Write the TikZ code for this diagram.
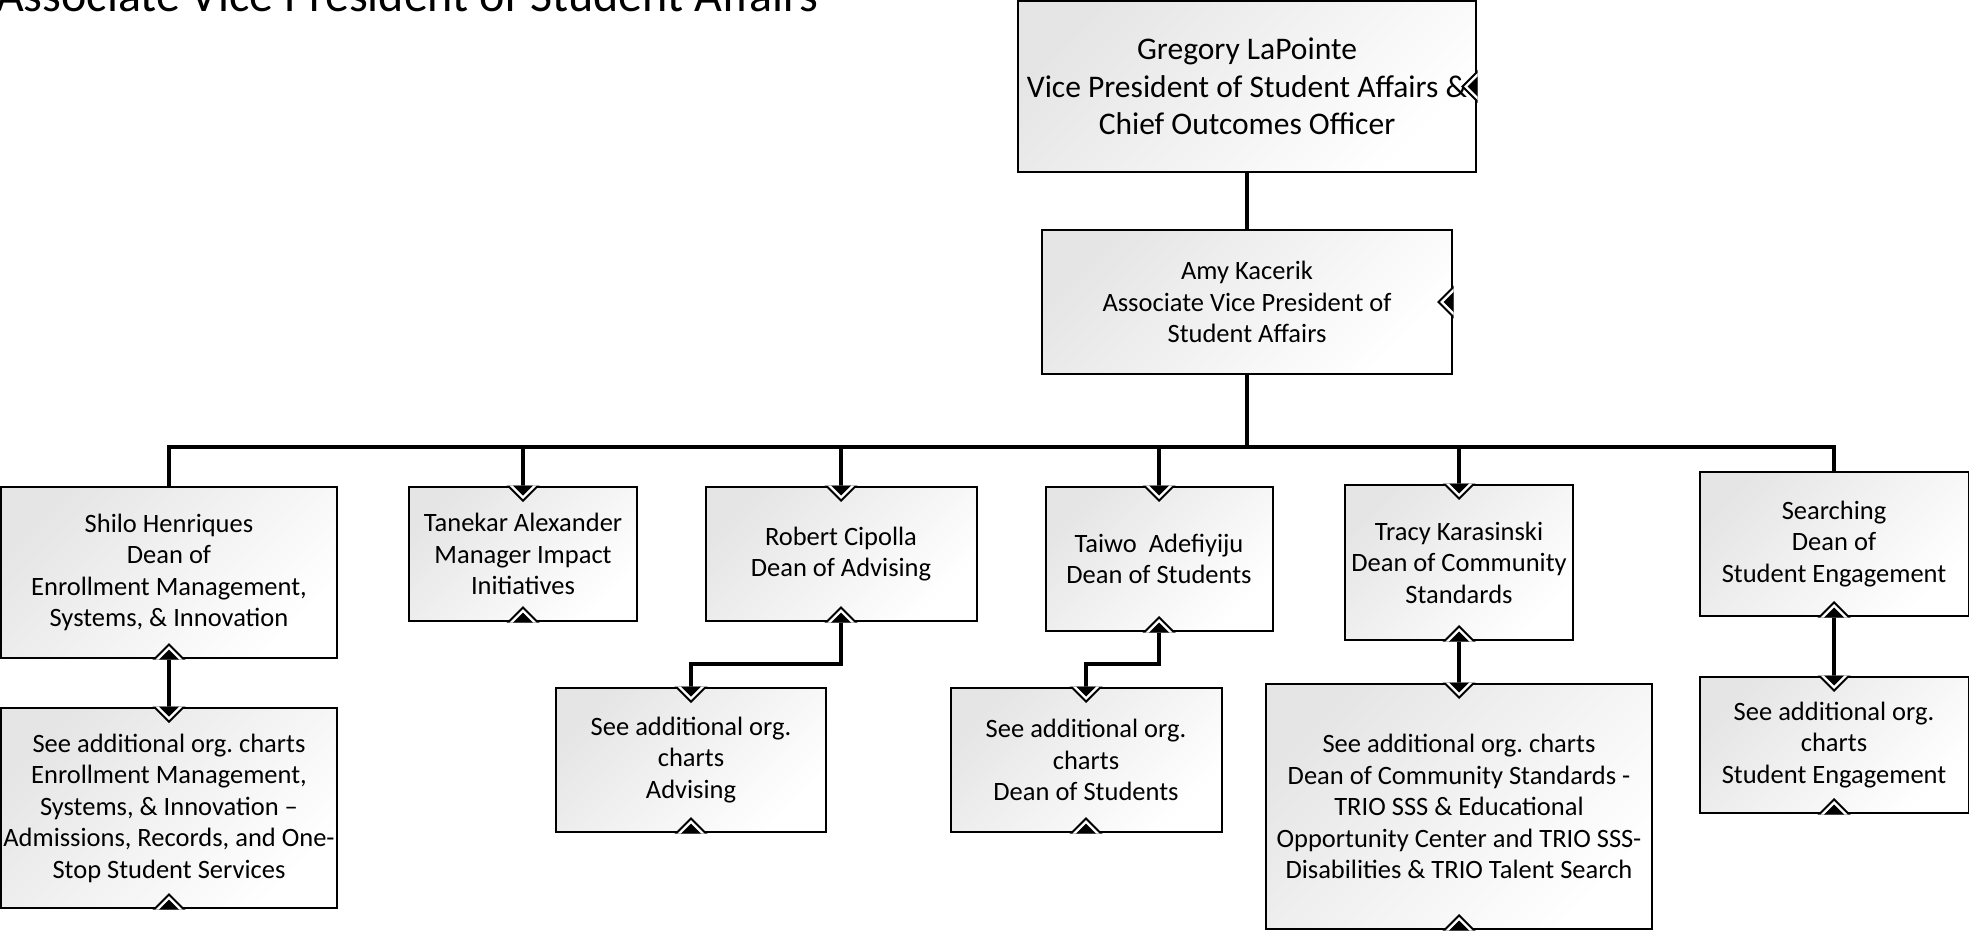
\documentclass[tikz,border=0pt]{standalone}
\usepackage{fontspec}
\setmainfont{Carlito}
\frenchspacing
\begin{document}
\tikzset{
  unitbox/.style={draw=black, line width=2pt, inner sep=0pt, outer sep=0pt,
    top color=black!10, bottom color=white, shading angle=45},
  unittext/.style={align=center, inner sep=0pt, font=\fontsize{26.5}{31.5}\selectfont},
  link/.style={draw=black, line width=4pt, line join=miter},
  % connection marker: base on the box edge, pointing into the box
  inmark/.pic={
    \fill[black] (-16.5,-1.5) -- (0,15) -- (16.5,-1.5) -- cycle;
    \fill[white] (-13.5,-1.5) -- (0,12) -- (13.5,-1.5) -- cycle;
    \fill[black] (-10,-1.5) -- (0,8.5) -- (10,-1.5) -- cycle;
  }
}
% name, centre x, centre y, width, height, text
\newcommand\orgunit[6]{%
  \node[unitbox, minimum width=#4pt, minimum height=#5pt] (#1) at (#2,#3) {};
  \node[unittext] (#1-t) at (#1) {#6};}
\begin{tikzpicture}[x=1pt, y=-1pt]
\useasboundingbox (0,0) rectangle (1969,930);

\node[font=\fontsize{48}{57}\selectfont, anchor=base west, inner sep=0pt] (title)
  at (-4,11) {Associate Vice President of Student Affairs};

% top of the chart
\node[unitbox, minimum width=458pt, minimum height=171pt] (greg) at (1247,86.5) {};
\node[align=center, inner sep=0pt, font=\fontsize{31.5}{37.5}\selectfont] (greg-t) at (greg)
  {Gregory LaPointe\\Vice President of Student Affairs \&\\Chief Outcomes Officer};
\orgunit{amy}{1247}{302}{410}{144}{Amy Kacerik\\Associate Vice President of\\Student Affairs}

% direct reports
\orgunit{shilo}{169}{572.5}{336}{171}{Shilo Henriques\\Dean of\\Enrollment Management,\\Systems, \& Innovation}
\orgunit{tanekar}{523}{554}{228}{134}{Tanekar Alexander\\Manager Impact\\Initiatives}
\orgunit{robert}{841}{554}{271}{134}{Robert Cipolla\\Dean of Advising}
\orgunit{taiwo}{1159}{559}{227}{144}{Taiwo\ \ Adefiyiju\\Dean of Students}
\orgunit{tracy}{1459}{562.5}{228}{155}{Tracy Karasinski\\Dean of Community\\Standards}
\orgunit{search}{1834}{544}{269}{144}{Searching\\Dean of\\Student Engagement}

% references to further charts
\orgunit{enroll}{169}{808}{336}{200}{See additional org. charts\\Enrollment Management,\\Systems, \& Innovation --\\Admissions, Records, and One-\\Stop Student Services}
\orgunit{advsee}{691}{760}{270}{144}{See additional org.\\charts\\Advising}
\orgunit{dossee}{1086}{760}{271}{144}{See additional org.\\charts\\Dean of Students}
\orgunit{commsee}{1459}{806.5}{386}{245}{See additional org. charts\\Dean of Community Standards -\\TRIO SSS \& Educational\\Opportunity Center and TRIO SSS-\\Disabilities \& TRIO Talent Search}
\orgunit{engsee}{1834}{745}{269}{136}{See additional org.\\charts\\Student Engagement}

% connectors
\coordinate (bus) at (1247,447);
\draw[link] (greg.south) -- (amy.north);
\draw[link] (amy.south) -- (bus);
\draw[link] (bus) -| (shilo.north);
\draw[link] (bus) -| (tanekar.north);
\draw[link] (bus) -| (robert.north);
\draw[link] (bus) -| (taiwo.north);
\draw[link] (bus) -| (tracy.north);
\draw[link] (bus) -| (search.north);
\draw[link] (shilo.south) -- (enroll.north);
\draw[link] (robert.south) -- ++(0,43) -| (advsee.north);
\draw[link] (taiwo.south) -- ++(0,33) -| (dossee.north);
\draw[link] (tracy.south) -- (commsee.north);
\draw[link] (search.south) -- (engsee.north);

% connection markers
\pic[rotate=-90] at (greg.east) {inmark};
\pic[rotate=-90] at (amy.east) {inmark};
\foreach \u in {tanekar,robert,taiwo,tracy,enroll,advsee,dossee,commsee,engsee}
  \pic at (\u.north) {inmark};
\foreach \u in {shilo,tanekar,robert,taiwo,tracy,search,enroll,advsee,dossee,commsee,engsee}
  \pic[rotate=180] at (\u.south) {inmark};
\end{tikzpicture}
\end{document}
